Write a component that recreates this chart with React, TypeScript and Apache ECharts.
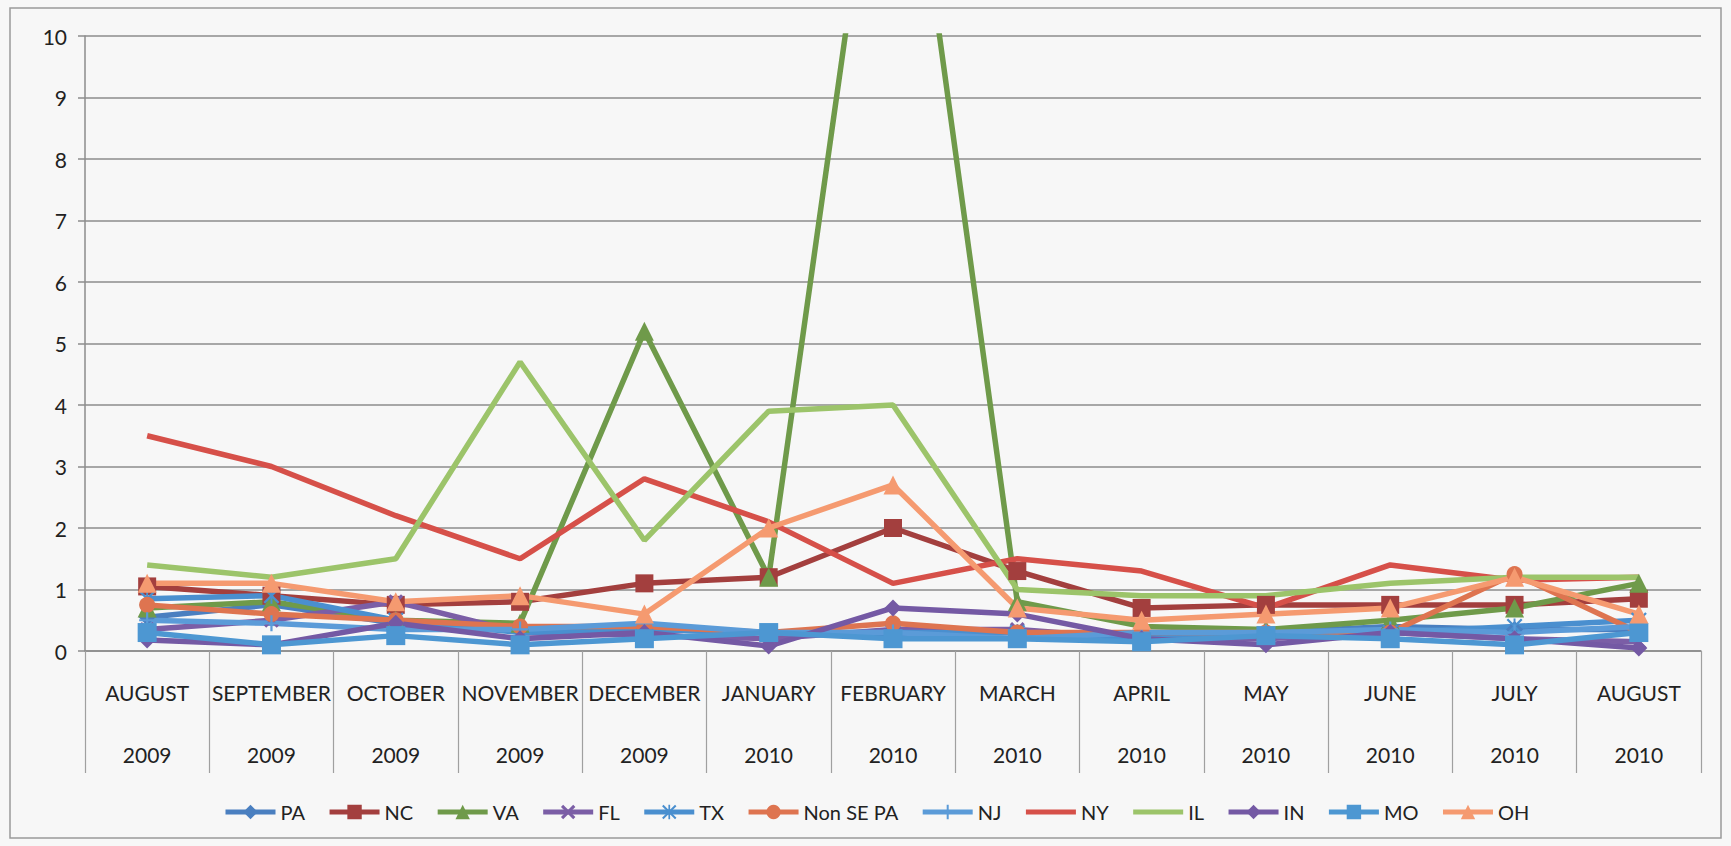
import React, { useEffect, useRef } from "react";
import * as echarts from "echarts";

const months = ["AUGUST", "SEPTEMBER", "OCTOBER", "NOVEMBER", "DECEMBER", "JANUARY", "FEBRUARY", "MARCH", "APRIL", "MAY", "JUNE", "JULY", "AUGUST"];
const years = ["2009", "2009", "2009", "2009", "2009", "2010", "2010", "2010", "2010", "2010", "2010", "2010", "2010"];
const yTicks = [0, 1, 2, 3, 4, 5, 6, 7, 8, 9, 10];

const PA = [0.55, 0.75, 0.45, 0.35, 0.35, 0.3, 0.25, 0.3, 0.25, 0.3, 0.4, 0.35, 0.35];
const NC = [1.05, 0.9, 0.75, 0.8, 1.1, 1.2, 2.0, 1.3, 0.7, 0.75, 0.75, 0.75, 0.85];
const VA = [0.7, 0.8, 0.5, 0.45, 5.2, 1.2, 15.5, 0.8, 0.4, 0.35, 0.5, 0.7, 1.1];
const FL = [0.35, 0.5, 0.8, 0.3, 0.25, 0.2, 0.35, 0.35, 0.2, 0.2, 0.3, 0.2, 0.15];
const TX = [0.85, 0.9, 0.5, 0.3, 0.35, 0.3, 0.3, 0.3, 0.2, 0.25, 0.3, 0.4, 0.5];
const NonSEPA = [0.75, 0.6, 0.5, 0.4, 0.4, 0.3, 0.45, 0.3, 0.3, 0.3, 0.3, 1.25, 0.3];
const NJ = [0.5, 0.45, 0.35, 0.35, 0.45, 0.3, 0.3, 0.2, 0.3, 0.3, 0.35, 0.3, 0.4];
const NY = [3.5, 3.0, 2.2, 1.5, 2.8, 2.1, 1.1, 1.5, 1.3, 0.7, 1.4, 1.15, 1.2];
const IL = [1.4, 1.2, 1.5, 4.7, 1.8, 3.9, 4.0, 1.0, 0.9, 0.9, 1.1, 1.2, 1.2];
const IN = [0.18, 0.1, 0.45, 0.2, 0.3, 0.08, 0.7, 0.6, 0.2, 0.1, 0.3, 0.2, 0.05];
const MO = [0.3, 0.1, 0.25, 0.1, 0.2, 0.3, 0.2, 0.2, 0.15, 0.25, 0.2, 0.1, 0.3];
const OH = [1.1, 1.1, 0.8, 0.9, 0.6, 2.0, 2.7, 0.7, 0.5, 0.6, 0.7, 1.2, 0.6];

const X_PATH = "path://M0,1.5L1.5,0L5,3.5L8.5,0L10,1.5L6.5,5L10,8.5L8.5,10L5,6.5L1.5,10L0,8.5L3.5,5Z";
const PLUS_PATH = "path://M4.3,0H5.7V4.3H10V5.7H5.7V10H4.3V5.7H0V4.3H4.3Z";
const AST_PATH = "path://M0,1L1,0L5,4L9,0L10,1L6,5L10,9L9,10L5,6L1,10L0,9L4,5Z M4.4,0H5.6V10H4.4Z";

const seriesDefs = [
  { name: "PA", data: PA, color: "#4a7fc0", symbol: "diamond", size: 17 },
  { name: "NC", data: NC, color: "#a33f3e", symbol: "rect", size: 18 },
  { name: "VA", data: VA, color: "#6f9a4a", symbol: "triangle", size: 19 },
  { name: "FL", data: FL, color: "#7b5ea6", symbol: X_PATH, size: 15 },
  { name: "TX", data: TX, color: "#4a8fcf", symbol: AST_PATH, size: 16 },
  { name: "Non SE PA", data: NonSEPA, color: "#de7450", symbol: "circle", size: 16 },
  { name: "NJ", data: NJ, color: "#5b9bd8", symbol: PLUS_PATH, size: 16 },
  { name: "NY", data: NY, color: "#d65049", symbol: "none", size: 0 },
  { name: "IL", data: IL, color: "#9cc46a", symbol: "none", size: 0 },
  { name: "IN", data: IN, color: "#7459a4", symbol: "diamond", size: 17 },
  { name: "MO", data: MO, color: "#4d97d2", symbol: "rect", size: 19 },
  { name: "OH", data: OH, color: "#f59a70", symbol: "triangle", size: 19 },
];

export default function App() {
  const ref = useRef<HTMLDivElement>(null);
  useEffect(() => {
    if (!ref.current) return;
    const chart = echarts.init(ref.current, undefined, { renderer: "svg" });
    const font = "Lato, 'Open Sans', sans-serif";
    chart.setOption({
      animation: false,
      backgroundColor: "#f7f7f7",
      textStyle: { fontFamily: font },
      graphic: [
        {
          type: "rect",
          shape: { x: 10, y: 8, width: 1711, height: 830 },
          style: { fill: "none", stroke: "#9a9a9a", lineWidth: 1.5 },
          silent: true,
        },
      ],
      legend: {
        left: 218,
        top: 797,
        itemWidth: 50,
        itemHeight: 18,
        itemGap: 22,
        lineStyle: { width: 5 },
        textStyle: { fontSize: 20, color: "#222", fontFamily: font },
        data: seriesDefs.map((s) =>
          s.symbol === "none"
            ? { name: s.name, itemStyle: { opacity: 0 } }
            : { name: s.name }
        ),
      },
      grid: { left: 85, right: 30, top: 36, bottom: 195, containLabel: false },
      xAxis: {
        type: "category",
        data: months.map((m, i) => m + "\n" + years[i]),
        boundaryGap: true,
        axisLine: { show: true, lineStyle: { color: "#8c8c8c", width: 1.5 } },
        axisTick: { show: true, interval: 0, length: 122, alignWithLabel: false, lineStyle: { color: "#a0a0a0", width: 1.2 } },
        axisLabel: { interval: 0, fontSize: 21, color: "#222", lineHeight: 62, margin: 10, fontFamily: font },
        splitLine: { show: false },
      },
      yAxis: {
        type: "value",
        min: yTicks[0],
        max: yTicks[yTicks.length - 1],
        interval: 1,
        axisLine: { show: true, lineStyle: { color: "#8c8c8c", width: 1.5 } },
        axisTick: { show: true, length: 7, lineStyle: { color: "#8c8c8c", width: 1.5 } },
        axisLabel: { fontSize: 21, color: "#222", margin: 18, fontFamily: font },
        splitLine: { show: true, lineStyle: { color: "#8c8c8c", width: 1.5 } },
      },
      series: seriesDefs.map((s) => ({
        name: s.name,
        type: "line",
        data: s.data,
        symbol: s.symbol,
        symbolSize: s.size,
        showSymbol: s.symbol !== "none",
        clip: true,
        itemStyle: { color: s.color },
        lineStyle: { color: s.color, width: 5.5 },
        emphasis: { disabled: true },
      })),
    });
    return () => chart.dispose();
  }, []);
  return <div ref={ref} style={{ position: "fixed", left: 0, top: 0, width: 1731, height: 846 }} />;
}
